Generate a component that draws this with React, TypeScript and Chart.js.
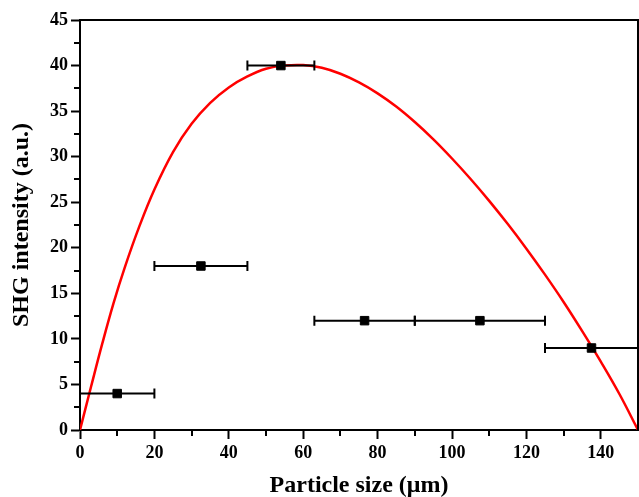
import React, { useEffect, useRef } from 'react';
import { Chart, registerables } from 'chart.js';

Chart.register(...registerables);

// Measured data points (particle size in µm, SHG intensity in a.u.)
const pointSizes = [10, 32.5, 54, 76.5, 107.5, 137.5];
const pointIntensity = [4, 18, 40, 12, 12, 9];
// Horizontal error ranges (size bins)
const sizeLow = [0, 20, 45, 63, 90, 125];
const sizeHigh = [20, 45, 63, 90, 125, 150];

// Red fitted curve
const curveX = [0, 3, 6, 9, 12, 16, 20, 25, 30, 35, 40, 45, 50, 55, 60, 65, 70, 75, 80, 85, 90, 95, 100, 105, 110, 115, 120, 125, 130, 135, 140, 145, 150];
const curveY = [0, 4.8, 9.5, 13.9, 17.8, 22.4, 26.4, 30.5, 33.6, 35.9, 37.6, 38.8, 39.65, 40.0, 40.05, 39.75, 39.1, 38.15, 36.95, 35.5, 33.8, 31.9, 29.8, 27.55, 25.15, 22.6, 19.9, 17.05, 14.05, 10.85, 7.5, 3.95, 0];

const xMin = 0;
const xMax = 150;
const xStep = 10;
const xLabelStep = 20;
const yMin = 0;
const yMax = 45;
const yStep = 2.5;
const yLabelStep = 5;

const xTitle = 'Particle size (μm)';
const yTitle = 'SHG intensity (a.u.)';

const FONT = "'Liberation Serif', 'Times New Roman', serif";

const decorPlugin = {
  id: 'decor',
  beforeDatasetDraw(chart: any, args: any) {
    if (args.index !== 1) return;
    const ctx = chart.ctx;
    const xs = chart.scales.x;
    const ys = chart.scales.y;
    ctx.save();
    ctx.strokeStyle = '#000';
    ctx.lineWidth = 2;
    for (let i = 0; i < pointSizes.length; i++) {
      const y = ys.getPixelForValue(pointIntensity[i]);
      const x1 = xs.getPixelForValue(sizeLow[i]);
      const x2 = xs.getPixelForValue(sizeHigh[i]);
      ctx.beginPath();
      ctx.moveTo(x1, y);
      ctx.lineTo(x2, y);
      ctx.moveTo(x1, y - 5);
      ctx.lineTo(x1, y + 5);
      ctx.moveTo(x2, y - 5);
      ctx.lineTo(x2, y + 5);
      ctx.stroke();
    }
    ctx.restore();
  },
  afterDraw(chart: any) {
    const ctx = chart.ctx;
    const { left, right, top, bottom } = chart.chartArea;
    const xs = chart.scales.x;
    const ys = chart.scales.y;
    ctx.save();
    ctx.strokeStyle = '#000';
    ctx.lineWidth = 2;
    ctx.beginPath();
    ctx.moveTo(left - 1, top);
    ctx.lineTo(right, top);
    ctx.lineTo(right, bottom);
    ctx.stroke();
    // minor ticks
    ctx.beginPath();
    xs.ticks.forEach((t: any) => {
      if (t.value % xLabelStep !== 0 && t.value !== xMax) {
        const px = Math.round(xs.getPixelForValue(t.value));
        ctx.moveTo(px, bottom);
        ctx.lineTo(px, bottom + 6);
      }
    });
    ys.ticks.forEach((t: any) => {
      if (t.value % yLabelStep !== 0) {
        const py = Math.round(ys.getPixelForValue(t.value));
        ctx.moveTo(left, py);
        ctx.lineTo(left - 6, py);
      }
    });
    ctx.stroke();
    ctx.restore();
  },
};

export default function App() {
  const ref = useRef<HTMLCanvasElement | null>(null);

  useEffect(() => {
    if (!ref.current) return;
    const tickFont = { family: FONT, size: 18, weight: 'bold' as const };
    const titleFont = { family: FONT, size: 24, weight: 'bold' as const };
    const chart = new Chart(ref.current, {
      type: 'scatter',
      data: {
        datasets: [
          {
            type: 'line',
            data: curveX.map((x, i) => ({ x, y: curveY[i] })),
            borderColor: '#ff0000',
            borderWidth: 2.5,
            pointRadius: 0,
            tension: 0.4,
            fill: false,
            order: 2,
          } as any,
          {
            type: 'scatter',
            data: pointSizes.map((x, i) => ({ x, y: pointIntensity[i] })),
            pointStyle: 'rect',
            pointRadius: 6,
            pointBackgroundColor: '#000',
            pointBorderColor: '#000',
            pointBorderWidth: 1,
            order: 1,
            clip: false,
          } as any,
        ],
      },
      options: {
        animation: false,
        responsive: false,
        maintainAspectRatio: false,
        layout: { autoPadding: false, padding: { top: 20, right: 1, left: 0, bottom: 0 } },
        plugins: { legend: { display: false }, tooltip: { enabled: false } },
        scales: {
          x: {
            type: 'linear',
            min: xMin,
            max: xMax,
            afterFit: (s: any) => {
              s.height = 67;
              s.paddingLeft = 0;
              s.paddingRight = 0;
            },
            ticks: {
              stepSize: xStep,
              autoSkip: false,
              maxRotation: 0,
              padding: 4,
              color: '#000',
              font: tickFont,
              callback: (v: any) => (v % xLabelStep === 0 && v !== xMax ? String(v) : ''),
            },
            grid: {
              drawOnChartArea: false,
              tickLength: 9,
              tickWidth: 2,
              tickColor: (c: any) =>
                c.tick && c.tick.value % xLabelStep === 0 && c.tick.value !== xMax ? '#000' : 'rgba(0,0,0,0)',
            },
            border: { color: '#000', width: 2 },
            title: {
              display: true,
              text: xTitle,
              color: '#000',
              font: { ...titleFont, lineHeight: 0.9 },
              padding: { top: 0, bottom: 0 },
            },
          },
          y: {
            type: 'linear',
            min: yMin,
            max: yMax,
            afterFit: (s: any) => {
              s.width = 80;
              s.paddingTop = 0;
              s.paddingBottom = 0;
            },
            ticks: {
              stepSize: yStep,
              autoSkip: false,
              padding: 3,
              color: '#000',
              font: tickFont,
              callback: (v: any) => (v % yLabelStep === 0 ? String(v) : ''),
            },
            grid: {
              drawOnChartArea: false,
              tickLength: 9,
              tickWidth: 2,
              tickColor: (c: any) =>
                c.tick && c.tick.value % yLabelStep === 0 ? '#000' : 'rgba(0,0,0,0)',
            },
            border: { color: '#000', width: 2 },
            title: {
              display: true,
              text: yTitle,
              color: '#000',
              font: { ...titleFont, lineHeight: 1.2 },
              padding: { top: 7, bottom: 0 },
            },
          },
        },
      },
      plugins: [decorPlugin],
    });
    return () => chart.destroy();
  }, []);

  return (
    <div style={{ position: 'absolute', left: 0, top: 0, width: 639, height: 497, background: '#fff' }}>
      <canvas ref={ref} width={639} height={497} style={{ display: 'block' }} />
    </div>
  );
}
